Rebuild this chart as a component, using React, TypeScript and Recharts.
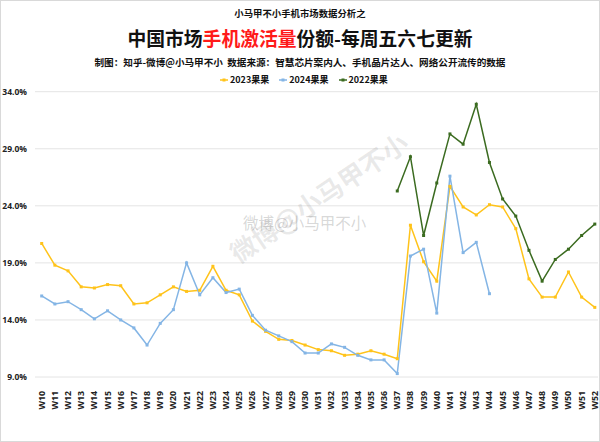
import React from 'react'
import { LineChart, Line, XAxis, YAxis, CartesianGrid } from 'recharts'

const weeks = [
    'W10', 'W11', 'W12', 'W13', 'W14', 'W15', 'W16', 'W17', 'W18', 'W19',
    'W20', 'W21', 'W22', 'W23', 'W24', 'W25', 'W26', 'W27', 'W28', 'W29',
    'W30', 'W31', 'W32', 'W33', 'W34', 'W35', 'W36', 'W37', 'W38', 'W39',
    'W40', 'W41', 'W42', 'W43', 'W44', 'W45', 'W46', 'W47', 'W48', 'W49',
    'W50', 'W51', 'W52',
]

// 2023果果, W10 - W52
const share2023 = [
    20.7, 18.8, 18.3, 16.9, 16.8, 17.1, 17.0, 15.4, 15.5, 16.2,
    16.9, 16.5, 16.6, 18.7, 16.6, 16.2, 13.9, 13.0, 12.3, 12.2,
    11.8, 11.4, 11.3, 10.9, 11.0, 11.3, 11.0, 10.6, 22.3, 19.1,
    17.4, 25.7, 23.9, 23.2, 24.1, 23.9, 22.0, 17.6, 16.0, 16.0,
    18.2, 16.0, 15.1,
]

// 2024果果, W10 - W44
const share2024 = [
    16.1, 15.4, 15.6, 14.9, 14.1, 14.8, 14.0, 13.3, 11.8, 13.7,
    14.9, 19.0, 16.2, 17.7, 16.4, 16.7, 14.4, 13.1, 12.6, 12.1,
    11.1, 11.1, 11.9, 11.6, 10.9, 10.5, 10.5, 9.3, 19.6, 20.2,
    14.6, 26.6, 19.9, 20.8, 16.3,
]

// 2022果果, W37 - W52
const share2022 = [
    25.3, 28.3, 21.4, 26.0, 30.3, 29.4, 32.9, 27.8, 24.6, 23.1,
    20.1, 17.4, 19.3, 20.2, 21.4, 22.4,
]
const start2022 = 27

const yTicks = [9, 14, 19, 24, 29, 34]

const series = [
    { key: 'y2023', name: '2023果果', color: '#FFC31A' },
    { key: 'y2024', name: '2024果果', color: '#84B5E5' },
    { key: 'y2022', name: '2022果果', color: '#3B6B20' },
]

const data = weeks.map((w, i) => ({
    week: w,
    y2023: share2023[i] ?? null,
    y2024: share2024[i] ?? null,
    y2022: i >= start2022 ? share2022[i - start2022] ?? null : null,
}))

const font = '"Open Sans", "Noto Sans CJK SC", sans-serif'
const cjk = '"Noto Sans CJK SC", sans-serif'

const WeekTick = (props: any) => {
    const { x, y, payload } = props
    return (
        <text x={x + 3} y={y + 6} transform={`rotate(-90 ${x + 3} ${y + 6})`}
            textAnchor="end" fontSize={8.8} fontWeight={700} fill="#222" fontFamily={font}>
            {payload.value}
        </text>
    )
}

function Dot(props: any) {
    const { cx, cy, stroke } = props
    if (cx == null || cy == null) return null
    return <rect x={cx - 1.5} y={cy - 1.5} width={3} height={3} fill={stroke} />
}

export default function App() {
    return (
        <div style={{ position: 'absolute', left: 0, top: 0, width: 600, height: 442, background: '#fff', fontFamily: cjk }}>
            <div style={{ position: 'absolute', top: 7, width: 600, textAlign: 'center', fontSize: 9.4, lineHeight: '13px', fontWeight: 700, color: '#111' }}>
                小马甲不小手机市场数据分析之
            </div>
            <div style={{ position: 'absolute', top: 26, width: 600, textAlign: 'center', fontSize: 18.8, fontWeight: 700, color: '#111', lineHeight: '24px' }}>
                中国市场<span style={{ color: '#ff1a1a' }}>手机激活量</span>份额-每周五六七更新
            </div>
            <div style={{ position: 'absolute', top: 55, width: 600, textAlign: 'center', fontSize: 9.6, lineHeight: '14px', fontWeight: 700, color: '#111', whiteSpace: 'pre' }}>
                制图：知乎-微博@小马甲不小  数据来源：智慧芯片案内人、手机晶片达人、网络公开流传的数据
            </div>
            <div style={{ position: 'absolute', top: 73, left: 220, display: 'flex', gap: 10, fontSize: 9, lineHeight: '14px', fontWeight: 700, color: '#111' }}>
                {series.map(s => (
                    <div key={s.key} style={{ display: 'flex', alignItems: 'center', gap: 2 }}>
                        <svg width={8} height={6}>
                            <line x1={0} y1={3} x2={8} y2={3} stroke={s.color} strokeWidth={1.5} />
                            <rect x={2.5} y={1.5} width={3} height={3} fill={s.color} />
                        </svg>
                        <span>{s.name}</span>
                    </div>
                ))}
            </div>
            <LineChart width={600} height={442} data={data}
                margin={{ top: 91.7, right: 2, bottom: 5, left: 0 }}>
                <CartesianGrid vertical={false} stroke="#e4e4e4" />
                <XAxis dataKey="week" scale="point" interval={0} padding={{ left: 6.7, right: 3.2 }}
                    axisLine={false} tickLine={false} height={60} tick={<WeekTick />} />
                <YAxis domain={[9, 34]} ticks={yTicks} width={35} axisLine={false} tickLine={false}
                    tickSize={0} tickMargin={8} interval={0}
                    tickFormatter={(v: number) => v.toFixed(1) + '%'}
                    tick={{ fontSize: 8.5, fontWeight: 700, fill: '#222', fontFamily: font }} />
                {series.map(s => (
                    <Line key={s.key} dataKey={s.key} name={s.name} stroke={s.color} strokeWidth={1.5}
                        dot={<Dot />} activeDot={false} connectNulls={false} isAnimationActive={false} />
                ))}
            </LineChart>
            <div style={{ position: 'absolute', left: 214, top: 178, fontSize: 26, fontWeight: 700, color: 'rgba(120,120,120,0.16)', transform: 'rotate(-34deg)', whiteSpace: 'nowrap', pointerEvents: 'none' }}>
                微博@小马甲不小
            </div>
            <div style={{ position: 'absolute', left: 243, top: 211, fontSize: 15.5, color: 'rgba(120,120,120,0.3)', whiteSpace: 'nowrap', pointerEvents: 'none' }}>
                微博@小马甲不小
            </div>
            <div style={{ position: 'absolute', inset: 0, border: '1px solid #d9d9d9', pointerEvents: 'none' }} />
        </div>
    )
}
